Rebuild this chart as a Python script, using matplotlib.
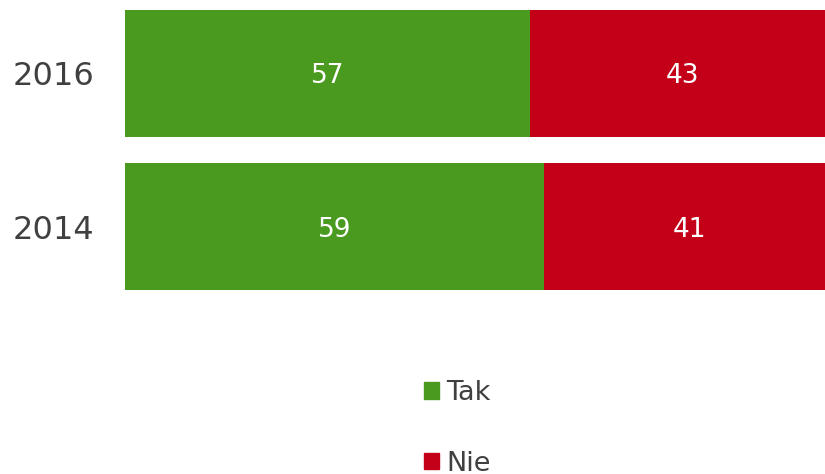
import matplotlib.pyplot as plt
from matplotlib.patches import Patch

years = ['2014', '2016']
tak = [59, 57]
nie = [41, 43]
labels = ['Tak', 'Nie']
colors = ['#4a9a1f', '#c40018']

fig = plt.figure(figsize=(8.25, 4.74), dpi=100)
# bars run a little past the right edge of the picture
ax = fig.add_axes([125 / 825, (474 - 290) / 474, 710 / 825, 280 / 474])

pos = range(len(years))
b1 = ax.barh(pos, tak, height=0.83, color=colors[0])
b2 = ax.barh(pos, nie, left=tak, height=0.83, color=colors[1])
for b in (b1, b2):
    for t in ax.bar_label(b, label_type='center', color='white', fontsize=19):
        t.set_va('center_baseline')

ax.set_xlim(0, 100)
ax.set_ylim(-0.415, 1.415)
ax.set_yticks(list(pos))
ax.set_yticklabels(years, fontsize=23, color='#404040')
ax.tick_params(axis='y', length=0, pad=22)
ax.set_xticks([])
for s in ax.spines.values():
    s.set_visible(False)

handles = [Patch(color=c) for c in colors]
fig.legend(handles, labels, loc='upper left', bbox_to_anchor=(424 / 825, 1 - 380 / 474),
           frameon=False, fontsize=19.5, labelcolor='#404040',
           borderaxespad=0, borderpad=0,
           handlelength=0.55, handleheight=0.55, handletextpad=0.26, labelspacing=1.65)

fig.savefig('out.png', dpi=100)
